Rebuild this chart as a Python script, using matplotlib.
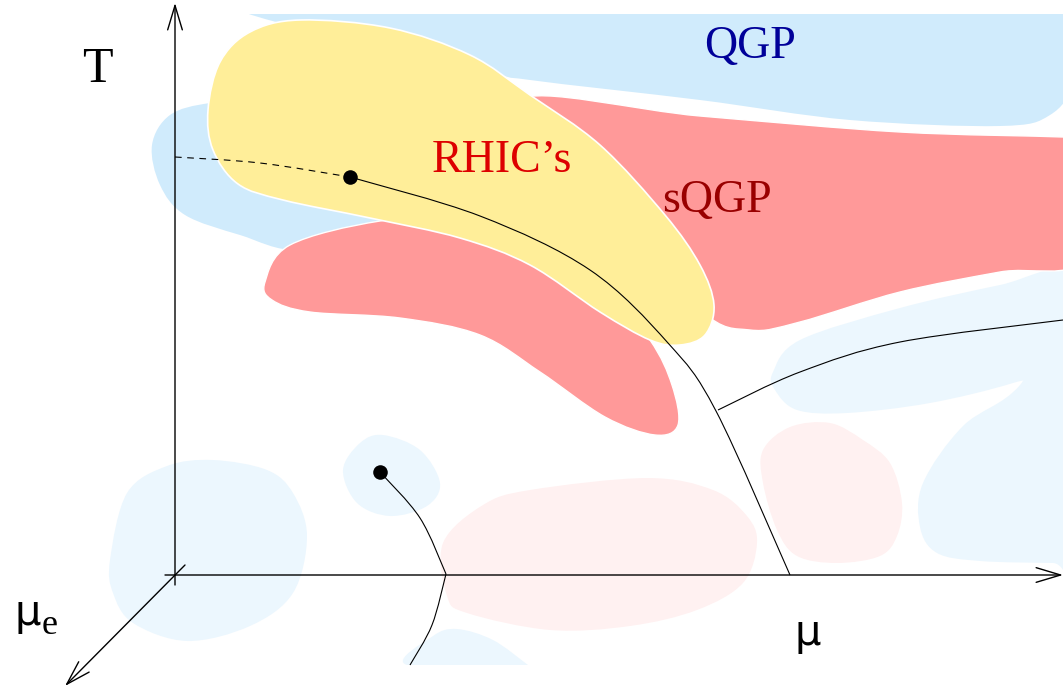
import numpy as np
import matplotlib
matplotlib.use("Agg")
import matplotlib.pyplot as plt
from matplotlib.path import Path
from matplotlib.patches import PathPatch

# ---- region outlines (schematic, pixel-space coordinates) ----
qgp_band_x = [235, 480, 530, 700, 850, 1000, 1050, 1075, 1090, 700, 400]
qgp_band_y = [8, 70, 80, 100, 120, 126, 115, 80, 5, 0, 0]

left_blue_x = [210, 170, 152, 160, 185, 240, 300, 390, 420, 350, 270]
left_blue_y = [103, 115, 145, 185, 215, 235, 250, 228, 190, 120, 100]

sqgp_x = [520, 700, 900, 1063, 1085, 1085, 1000, 900, 800, 750, 700, 600]
sqgp_y = [100, 116, 132, 137, 140, 258, 272, 292, 322, 330, 310, 200]

red_low_x = [265, 290, 380, 480, 600, 650, 672, 678, 655, 605, 540, 480, 400, 310, 272]
red_low_y = [282, 245, 221, 215, 280, 340, 385, 425, 435, 417, 372, 335, 318, 312, 300]

rhic_x = [300, 390, 470, 530, 600, 665, 700, 714, 705, 680, 650, 600, 530, 460, 370, 283, 238, 213, 208, 220, 250]
rhic_y = [20, 28, 55, 95, 145, 215, 265, 305, 335, 345, 340, 312, 265, 238, 218, 200, 184, 150, 110, 62, 32]

mid_blue_x = [773, 800, 900, 1000, 1070, 1070, 1013, 930, 847, 797, 775]
mid_blue_y = [372, 340, 308, 285, 272, 360, 383, 403, 413, 410, 390]

right_blue_x = [1070, 1020, 963, 923, 920, 937, 980, 1053, 1075]
right_blue_y = [300, 385, 426, 483, 527, 553, 561, 563, 563]

mid_pink_x = [763, 790, 830, 863, 890, 902, 897, 880, 837, 797, 777, 763]
mid_pink_y = [450, 427, 423, 440, 463, 503, 536, 556, 563, 556, 530, 483]

low_pink_x = [443, 483, 530, 647, 713, 747, 757, 743, 697, 630, 550, 467, 447]
low_pink_y = [543, 505, 490, 478, 490, 516, 543, 583, 610, 626, 630, 613, 596]

low_blue_x = [110, 127, 167, 213, 267, 293, 307, 293, 250, 187, 133, 113]
low_blue_y = [560, 493, 466, 460, 470, 493, 536, 593, 626, 641, 623, 593]

small_blue_x = [343, 360, 383, 420, 440, 427, 390, 357]
small_blue_y = [470, 443, 435, 450, 483, 506, 516, 503]

bottom_blue_x = [407, 433, 457, 493, 528, 528]
bottom_blue_y = [665, 636, 629, 640, 665, 665]

# ---- phase lines ----
crit_dashed_x = [175, 260, 350]
crit_dashed_y = [157, 163, 177]
main_line_x = [350, 480, 590, 668, 716, 790]
main_line_y = [177, 216, 270, 343, 411, 575]
branch_x = [718, 800, 900, 1063]
branch_y = [410, 372, 342, 320]
low_line_upper_x = [380, 420, 446]
low_line_upper_y = [472, 518, 574]
low_line_lower_x = [446, 432, 410]
low_line_lower_y = [574, 625, 665]
dots_x = [350, 380]
dots_y = [177, 472]

labels = ["T", "QGP", "RHIC\u2019s", "sQGP", "\u03bc"]


def catmull_path(xs, ys, closed=True):
    P = np.column_stack([xs, ys]).astype(float)
    n = len(P)
    verts = [P[0]]
    codes = [Path.MOVETO]
    rng = range(n) if closed else range(n - 1)
    for i in rng:
        if closed:
            p0, p1, p2, p3 = P[(i - 1) % n], P[i], P[(i + 1) % n], P[(i + 2) % n]
        else:
            p0 = P[max(i - 1, 0)]
            p1, p2 = P[i], P[i + 1]
            p3 = P[min(i + 2, n - 1)]
        c1 = p1 + (p2 - p0) / 6.0
        c2 = p2 - (p3 - p1) / 6.0
        verts += [c1, c2, p2]
        codes += [Path.CURVE4] * 3
    if closed:
        verts.append(P[0])
        codes.append(Path.CLOSEPOLY)
    return Path(verts, codes)


fig = plt.figure(figsize=(10.63, 6.86), dpi=100)
ax = fig.add_axes([0, 0, 1, 1])
ax.set_xlim(0, 1063)
ax.set_ylim(686, 0)
ax.axis("off")

LB = "#d0ebfc"
VLB = "#ecf7fe"
RED = "#ff9999"
VLP = "#fff1f1"
YEL = "#ffee99"

def blob(xs, ys, fc, ec="none", lw=0, z=1):
    p = PathPatch(catmull_path(xs, ys), facecolor=fc, edgecolor=ec, lw=lw, zorder=z)
    ax.add_patch(p)
    return p

blob(low_blue_x, low_blue_y, VLB, z=1)
blob(small_blue_x, small_blue_y, VLB, z=1)
bb = blob(bottom_blue_x, bottom_blue_y, VLB, z=1)
blob(low_pink_x, low_pink_y, VLP, z=1)
blob(mid_pink_x, mid_pink_y, VLP, z=1)
blob(mid_blue_x, mid_blue_y, VLB, z=1)
blob(right_blue_x, right_blue_y, VLB, z=1)
band = blob(qgp_band_x, qgp_band_y, LB, z=2)
blob(left_blue_x, left_blue_y, LB, z=2)
blob(sqgp_x, sqgp_y, RED, ec="white", lw=1.0, z=3)
blob(red_low_x, red_low_y, RED, ec="white", lw=1.0, z=3)
blob(rhic_x, rhic_y, YEL, ec="white", lw=1.2, z=4)

# clip: QGP band cut flat at top, bottom blob cut flat at bottom
clip_top = plt.Rectangle((0, 14), 1063, 700, transform=ax.transData)
band.set_clip_path(clip_top)
clip_bot = plt.Rectangle((0, 0), 1063, 665, transform=ax.transData)
bb.set_clip_path(clip_bot)

# axes of the diagram
arrow = dict(arrowstyle="->,head_length=1.1,head_width=0.33", lw=1.0, color="black",
             mutation_scale=16, shrinkA=0, shrinkB=0)
ax.annotate("", xy=(175, 3), xytext=(175, 585), arrowprops=arrow, zorder=6)
ax.annotate("", xy=(1063, 575), xytext=(165, 575), arrowprops=arrow, zorder=6)
ax.annotate("", xy=(65, 686), xytext=(185, 565), arrowprops=arrow, zorder=6)

# phase lines
ax.add_patch(PathPatch(catmull_path(crit_dashed_x, crit_dashed_y, closed=False), fill=False,
                       ec="black", lw=0.8, ls=(0, (6, 5)), zorder=6))
for lx, ly in [(main_line_x, main_line_y), (branch_x, branch_y),
               (low_line_upper_x, low_line_upper_y), (low_line_lower_x, low_line_lower_y)]:
    ax.add_patch(PathPatch(catmull_path(lx, ly, closed=False), fill=False, ec="black", lw=0.8, zorder=6))
ax.scatter(dots_x, dots_y, s=110, color="black", zorder=7, linewidths=0)

serif = "Liberation Serif"
ax.text(97, 70, labels[0], fontsize=36, family=serif, ha="center", va="center", zorder=8)
ax.text(750, 47, labels[1], fontsize=33, family=serif, color="#000099", ha="center", va="center", zorder=8)
ax.text(502, 161, labels[2], fontsize=33, family=serif, color="#dd0000", ha="center", va="center", zorder=8)
ax.text(717, 201, labels[3], fontsize=33, family=serif, color="#990000", ha="center", va="center", zorder=8)
ax.text(808, 645, labels[4], fontsize=30, family="DejaVu Sans", ha="center", va="baseline", zorder=8)
ax.text(14, 625, "\u03bc", fontsize=30, family="DejaVu Sans", ha="left", va="baseline", zorder=8)
ax.text(42, 634, "e", fontsize=26, family=serif, ha="left", va="baseline", zorder=8)

fig.savefig("out.png", dpi=100)
